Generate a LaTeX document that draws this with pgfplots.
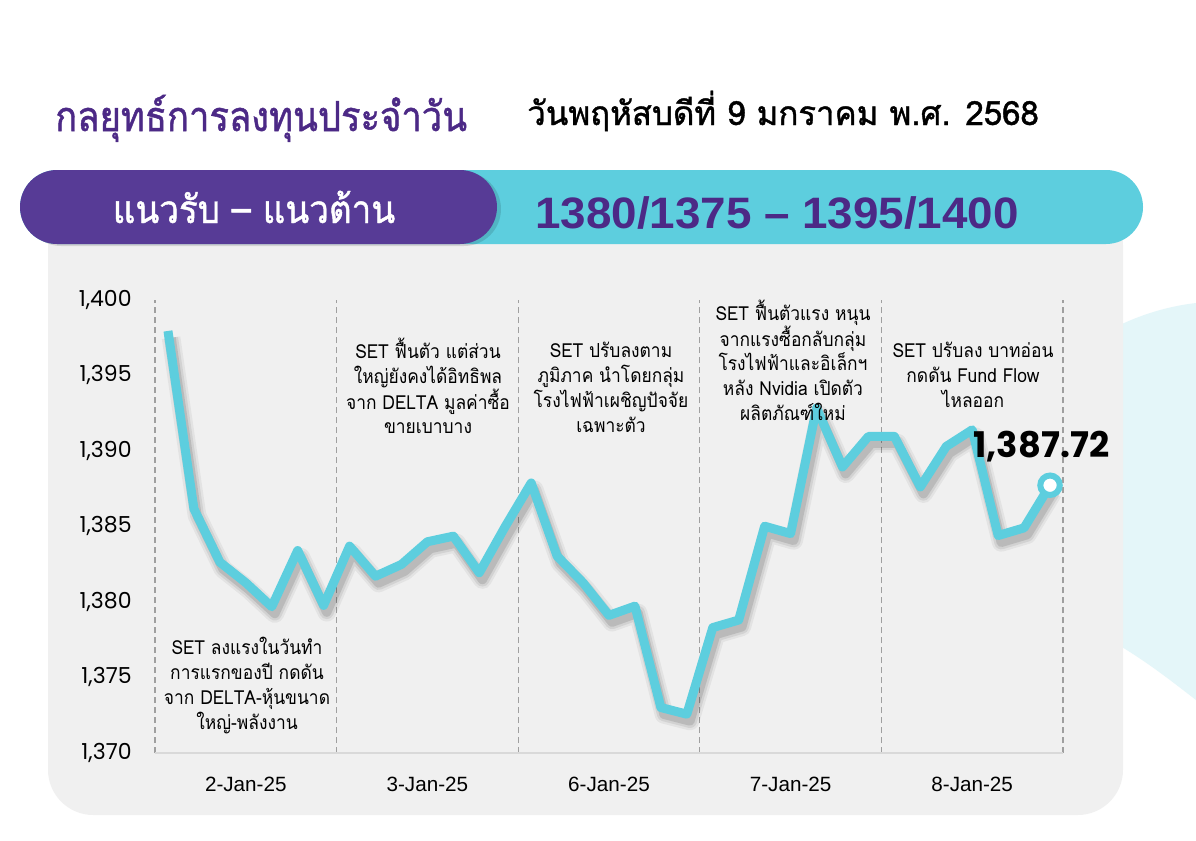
\documentclass[border=0pt]{standalone}
\usepackage{fontspec}
\usepackage{pgfplots}
\pgfplotsset{compat=1.18}
\setmainfont{Poppins}
\newfontfamily\thai[Script=Thai]{Loma}
\newfontfamily\thaim[Script=Thai, FakeBold=1.2]{Loma}
\newfontfamily\pop{Poppins}
\newfontfamily\lib{Liberation Sans}
\definecolor{cy}{HTML}{5DCEDE}
\definecolor{pur}{HTML}{573B96}
\definecolor{tpur}{HTML}{4C2986}
\definecolor{panel}{HTML}{F0F0F0}
\definecolor{lcy}{HTML}{E4F6F9}
\pgfplotstableread{
x y
0 1397.93
1 1386.16
2 1382.63
3 1381.27
4 1379.68
5 1383.40
6 1379.77
7 1383.69
8 1381.70
9 1382.48
10 1383.98
11 1384.35
12 1381.93
13 1384.99
14 1387.87
15 1383.03
16 1381.27
17 1379.11
18 1379.72
19 1373.01
20 1372.57
21 1378.30
22 1378.80
23 1385.01
24 1384.52
25 1392.83
26 1388.93
27 1390.95
28 1390.95
29 1387.61
30 1390.29
31 1391.39
32 1384.39
33 1384.90
34 1387.72
}\setdata
\newcommand\an[1]{\scalebox{0.9}[1]{#1}}
\begin{document}
\begin{tikzpicture}
\begin{scope}[x=0.75pt,y=-0.75pt]
\path[use as bounding box, fill=white] (0,0) rectangle (1196,840);
\fill[lcy] (1110,330) .. controls (1140,314) and (1170,306) .. (1196,303) -- (1196,700) .. controls (1170,680) and (1145,660) .. (1110,640) -- cycle;
\fill[panel, rounded corners=34pt] (48,200) rectangle (1123,815);
\fill[cy, rounded corners=27.75pt] (20,170) rectangle (1143,244);
\fill[black, opacity=0.12, rounded corners=27.75pt] (24,172) rectangle (501,246);
\fill[pur, rounded corners=27.75pt] (20,170) rectangle (497,244);
\node[anchor=base west, inner sep=0pt, text=tpur, font=\thaim\fontsize{31}{36}\selectfont] at (55,131) {\scalebox{0.88}[1]{กลยุทธ์การลงทุนประจำวัน}};
\node[anchor=base west, inner sep=0pt, text=black, font=\thaim\fontsize{25}{30}\selectfont] at (527,125) {\scalebox{0.99}[1]{วันพฤหัสบดีที่ 9 มกราคม พ.ศ. 2568}};
\node[anchor=base, inner sep=0pt, text=white, font=\thaim\fontsize{29}{34}\selectfont] at (254,223) {\scalebox{0.905}[1]{แนวรับ – แนวต้าน}};
\node[anchor=base west, inner sep=0pt, text=tpur, font=\lib\bfseries\fontsize{33}{38}\selectfont] at (535,228) {\scalebox{1.04}[1]{1380/1375 – 1395/1400}};
\end{scope}
\begin{axis}[
  at={(116.25pt,-564.75pt)}, anchor=south west,
  scale only axis, width=681pt, height=340pt,
  xmin=-0.5, xmax=34.5, ymin=1370, ymax=1400,
  axis line style={draw=none},
  tick style={draw=none},
  xtick={3,10,17,24,31},
  xticklabels={2-Jan-25,3-Jan-25,6-Jan-25,7-Jan-25,8-Jan-25},
  ytick={1370,1375,...,1400},
  yticklabel style={font=\pop\fontsize{16.5}{19}\selectfont, xshift=-14pt},
  xticklabel style={font=\lib\fontsize{15.5}{18}\selectfont, yshift=-14.5pt},
  /pgf/number format/assume math mode=true,
  /pgf/number format/1000 sep={,},
  extra x ticks={-0.5,6.5,13.5,20.5,27.5,34.5},
  extra x tick labels={},
  extra x tick style={grid=major, major grid style={draw=gray!75, line width=1pt, dash pattern=on 4.5pt off 3pt}},
  clip=false,
]
\draw[draw=black!15, line width=1.5pt] (axis cs:-0.5,1370) -- (axis cs:34.5,1370);
\addplot[no markers, draw=black, opacity=0.05, line width=14pt, line join=round, x filter/.expression={x+0.12}, y filter/.expression={y-0.45}] table {\setdata};
\addplot[no markers, draw=black, opacity=0.07, line width=10.5pt, line join=round, x filter/.expression={x+0.12}, y filter/.expression={y-0.45}] table {\setdata};
\addplot[no markers, draw=black, opacity=0.11, line width=7pt, line join=round, x filter/.expression={x+0.12}, y filter/.expression={y-0.45}] table {\setdata};
\addplot[no markers, draw=cy, line width=6.75pt, line join=round] table {\setdata};
\addplot[only marks, mark=*, mark size=7.3pt, mark options={fill=white, draw=cy, line width=4.5pt}] coordinates {(34,1387.72)};
\node[font=\pop\bfseries\fontsize{26.5}{30}\selectfont, inner sep=0pt] at (axis cs:34,1387.72) [xshift=-6.5pt, yshift=29pt] {1,387.72};
\end{axis}
\begin{scope}[x=0.75pt,y=-0.75pt, every node/.style={anchor=base, inner sep=0pt, font=\thai\fontsize{14.5}{17}\selectfont}]
\node at (247,654) {\an{SET ลงแรงในวันทำ}};
\node at (247,679) {\an{การแรกของปี กดดัน}};
\node at (247,704) {\an{จาก DELTA-หุ้นขนาด}};
\node at (247,729) {\an{ใหญ่-พลังงาน}};
\node at (428,358) {\an{SET ฟื้นตัว แต่ส่วน}};
\node at (428,383) {\an{ใหญ่ยังคงได้อิทธิพล}};
\node at (428,409) {\an{จาก DELTA มูลค่าซื้อ}};
\node at (428,433) {\an{ขายเบาบาง}};
\node at (611,357) {\an{SET ปรับลงตาม}};
\node at (611,382) {\an{ภูมิภาค นำโดยกลุ่ม}};
\node at (611,407) {\an{โรงไฟฟ้าเผชิญปัจจัย}};
\node at (611,432) {\an{เฉพาะตัว}};
\node at (793,320) {\an{SET ฟื้นตัวแรง หนุน}};
\node at (793,346) {\an{จากแรงซื้อกลับกลุ่ม}};
\node at (793,370) {\an{โรงไฟฟ้าและอิเล็กฯ}};
\node at (793,395) {\an{หลัง Nvidia เปิดตัว}};
\node at (793,420) {\an{ผลิตภัณฑ์ใหม่}};
\node at (973,357) {\an{SET ปรับลง บาทอ่อน}};
\node at (973,382) {\an{กดดัน Fund Flow}};
\node at (973,407) {\an{ไหลออก}};
\end{scope}
\end{tikzpicture}
\end{document}
